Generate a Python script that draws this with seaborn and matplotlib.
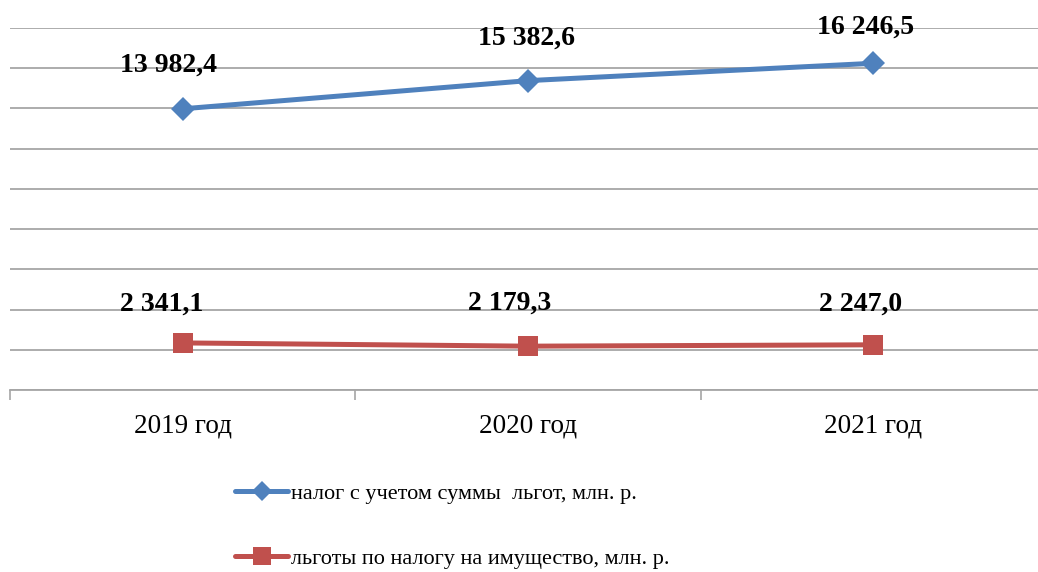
import pandas as pd
import matplotlib.pyplot as plt
import seaborn as sb
from matplotlib.ticker import FixedLocator

# data #
years = ['2019 год', '2020 год', '2021 год']
tax_with_benefits = [13982.4, 15382.6, 16246.5]
property_benefits = [2341.1, 2179.3, 2247.0]
label_tax = 'налог с учетом суммы  льгот, млн. р.'
label_benefits = 'льготы по налогу на имущество, млн. р.'

def fmt(v):
    s = f'{v:,.1f}'
    return s.replace(',', ' ').replace('.', ',')

sb.set_theme(style='white')
plt.rcParams['font.family'] = ['Liberation Serif', 'DejaVu Serif']

fig = plt.figure(figsize=(10.38, 5.72), dpi=100)
ax = fig.add_axes([10 / 1038, 182 / 572, 1036 / 1038, 362 / 572])

sb.lineplot(x=years, y=tax_with_benefits, ax=ax, color='#4F81BD', linewidth=3.6,
            marker='D', markersize=12, markeredgewidth=0, sort=False, label=label_tax)
sb.lineplot(x=years, y=property_benefits, ax=ax, color='#C0504D', linewidth=3.6,
            marker='s', markersize=15, markeredgewidth=0, sort=False, label=label_benefits)

# value labels (excel-like placement above each point) #
tax_offsets = [(-14, 44), (-1, 42), (-8, 36)]
ben_offsets = [(-21, 39), (-18, 43), (-13, 41)]
for i, v in enumerate(tax_with_benefits):
    ax.annotate(fmt(v), (i, v), xytext=tax_offsets[i], textcoords='offset pixels',
                ha='center', va='center', fontsize=20, fontweight='bold', color='black')
for i, v in enumerate(property_benefits):
    ax.annotate(fmt(v), (i, v), xytext=ben_offsets[i], textcoords='offset pixels',
                ha='center', va='center', fontsize=20, fontweight='bold', color='black')

# axes styling #
ax.set_ylim(0, 18000)
ax.set_xlim(-0.5, 2.5)
ax.set_yticks(range(0, 18001, 2000))
ax.yaxis.grid(True, color='#A6A6A6', linewidth=1.3)
ax.tick_params(axis='y', left=False, labelleft=False)
ax.xaxis.set_minor_locator(FixedLocator([-0.5, 0.5, 1.5, 2.5]))
ax.tick_params(axis='x', which='major', length=0, labelsize=19.5, pad=17, colors='black')
ax.tick_params(axis='x', which='minor', bottom=True, length=7, width=1.2, color='#A6A6A6')
for side in ['top', 'right', 'left']:
    ax.spines[side].set_visible(False)
ax.spines['bottom'].set_color('#A6A6A6')
ax.spines['bottom'].set_linewidth(1.3)
ax.set_xlabel('')
ax.set_ylabel('')

# legend below the plot #
handles, labels = ax.get_legend_handles_labels()
ax.get_legend().remove()
fig.legend(handles, labels, loc='center left', bbox_to_anchor=(224 / 1038, 1 - 526 / 572),
           frameon=False, fontsize=16, handlelength=2.4, handletextpad=0.12,
           labelspacing=2.0, borderpad=0, markerscale=0.85, labelcolor='black')

plt.savefig('out.png', dpi=100)
